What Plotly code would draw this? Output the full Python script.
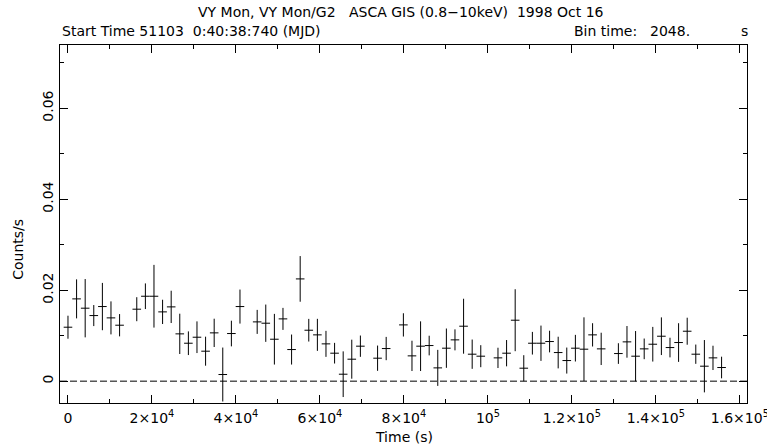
import plotly.graph_objects as go

BIN = 2048.0
# bin index -> rate (counts/s), 1-sigma error; None = no data in bin
rate = [0.01186, 0.01809, 0.01604, 0.01442, 0.0164, 0.01391, 0.0123, None,
        0.01582, 0.01867, 0.01867, 0.01523, 0.01633, 0.0104, 0.00834,
        0.00966, 0.00659, 0.01062, 0.00146, 0.01047, 0.0164, None,
        0.01303, 0.01274, 0.00922, 0.01369, 0.00695, 0.02248, 0.0112,
        0.01018, 0.0082,
        0.00615, 0.00153, 0.00483, 0.00769, None, 0.00505, 0.00717, None,
        0.01237, 0.00556, 0.00769, 0.00783, 0.00292, 0.00725, 0.00908,
        0.01208,
        0.00593, 0.00549, None, 0.00512, 0.00615, 0.0134, 0.00285, 0.00834,
        0.00834, 0.00871, 0.00629, 0.00453, 0.00725, 0.00703, 0.01018,
        0.0071,
        None, 0.00607, 0.00864, 0.00549, 0.0071, 0.00812, 0.00988, 0.00739,
        0.00849, 0.01098, 0.00593, 0.00329, 0.00512, 0.003]
err = [0.00253, 0.00429, 0.00641, 0.00231, 0.0052, 0.00363, 0.00245, None,
       0.00264, 0.00282, 0.00689, 0.00267, 0.00355, 0.00443, 0.0026,
       0.00348, 0.00319, 0.00311, 0.00593, 0.00282, 0.00374, None,
       0.00264, 0.0041, 0.00557, 0.00242, 0.0033, 0.00502, 0.00249,
       0.00352, 0.00286,
       0.00227, 0.00502, 0.00429, 0.00234, None, 0.00278, 0.00256, None,
       0.00256, 0.00333, 0.00546, 0.00216, 0.00396, 0.00432, 0.00231,
       0.00604,
       0.00322, 0.00242, None, 0.00223, 0.00289, 0.00681, 0.00286, 0.00249,
       0.00388, 0.00238, 0.00348, 0.00286, 0.00293, 0.007, 0.00256,
       0.00355,
       None, 0.00227, 0.00348, 0.00553, 0.00227, 0.00381, 0.00414, 0.00216,
       0.00425, 0.00297, 0.00212, 0.00575, 0.00267, 0.00238]

xtick_vals = [0, 2e4, 4e4, 6e4, 8e4, 1e5, 1.2e5, 1.4e5, 1.6e5]
xtick_text = ["0", "2×10<sup>4</sup>", "4×10<sup>4</sup>", "6×10<sup>4</sup>",
              "8×10<sup>4</sup>", "10<sup>5</sup>", "1.2×10<sup>5</sup>",
              "1.4×10<sup>5</sup>", "1.6×10<sup>5</sup>"]
ytick_vals = [0, 0.02, 0.04, 0.06]
ytick_text = ["0", "0.02", "0.04", "0.06"]

t = [i * BIN for i, r in enumerate(rate) if r is not None]
y = [r for r in rate if r is not None]
e = [v for v in err if v is not None]

FONT = "DejaVu Sans, Liberation Sans, Arial, sans-serif"
FS = 14

fig = go.Figure()
fig.add_trace(go.Scatter(
    x=t, y=y, mode="markers",
    marker=dict(size=0.1, color="black", opacity=0),
    error_x=dict(type="constant", value=BIN / 2, color="black", thickness=1, width=0),
    error_y=dict(type="data", array=e, color="black", thickness=1, width=0),
    showlegend=False, hoverinfo="skip",
))

fig.add_shape(type="line", xref="paper", x0=0, x1=1, yref="y", y0=0, y1=0,
              line=dict(color="black", width=1, dash="7px,3px"))

axis_common = dict(
    showline=True, linecolor="black", linewidth=1, mirror="ticks",
    ticks="inside", tickcolor="black", ticklen=8, tickwidth=1,
    showgrid=False, zeroline=False, ticklabeloverflow="allow", automargin=False,
    tickfont=dict(family=FONT, size=FS, color="black"),
)

fig.update_xaxes(
    range=[-1900, 161700], tickmode="array", tickvals=xtick_vals, ticktext=xtick_text,
    minor=dict(ticks="inside", ticklen=4, dtick=1e4, tick0=0, tickcolor="black", showgrid=False),
    ticklabelstandoff=2,
    **axis_common,
)
fig.update_yaxes(
    range=[-0.0048, 0.0739], tickmode="array", tickvals=ytick_vals, ticktext=ytick_text,
    tickangle=-90,
    minor=dict(ticks="inside", ticklen=4, dtick=0.01, tick0=0, tickcolor="black", showgrid=False),
    **axis_common,
)

NB = "\u00a0"
ann_font = dict(family=FONT, size=FS, color="black")
annotations = [
    dict(text=f"VY Mon, VY Mon/G2{NB*3}ASCA GIS (0.8−10keV){NB*2}1998 Oct 16",
         x=(401 - 60) / 687, y=1.092, xanchor="center"),
    dict(text=f"Start Time 51103{NB*2}0:40:38:740 (MJD)", x=0.0, y=1.039, xanchor="left"),
    dict(text="Bin time:", x=(572 - 60) / 687, y=1.039, xanchor="left"),
    dict(text="2048.", x=(648 - 60) / 687, y=1.039, xanchor="left"),
    dict(text="s", x=(739 - 60) / 687, y=1.039, xanchor="left"),
    dict(text="Time (s)", x=0.5, y=(403.3 - 437) / 358.3, xanchor="center"),
    dict(text="Counts/s", x=(18 - 60) / 687, y=(403.3 - 250) / 358.3, xanchor="center",
         textangle=-90),
]
for a in annotations:
    fig.add_annotation(xref="paper", yref="paper", yanchor="middle", showarrow=False,
                       font=ann_font, **a)

fig.update_layout(
    width=767, height=446,
    margin=dict(l=60, r=20, t=45, b=43, autoexpand=False),
    paper_bgcolor="white", plot_bgcolor="white",
    font=dict(family=FONT, size=FS, color="black"),
)

fig.write_html("out.html")
